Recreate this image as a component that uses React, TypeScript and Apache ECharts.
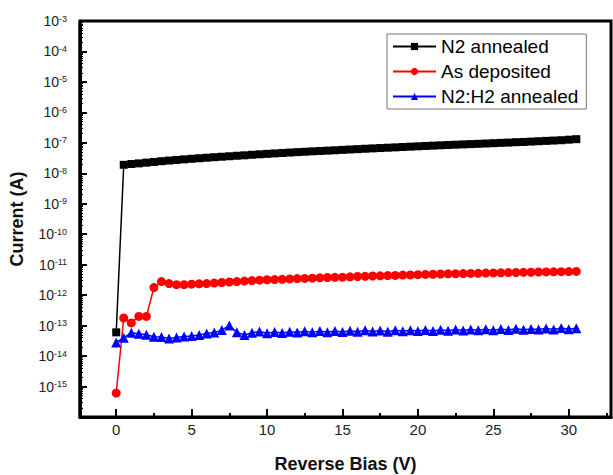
import React, { useEffect, useRef } from "react";
import * as echarts from "echarts";

const voltage = [
  0, 0.5, 1, 1.5, 2, 2.5, 3, 3.5, 4, 4.5, 5, 5.5, 6, 6.5, 7, 7.5, 8, 8.5, 9, 9.5,
  10, 10.5, 11, 11.5, 12, 12.5, 13, 13.5, 14, 14.5, 15, 15.5, 16, 16.5, 17, 17.5,
  18, 18.5, 19, 19.5, 20, 20.5, 21, 21.5, 22, 22.5, 23, 23.5, 24, 24.5, 25, 25.5,
  26, 26.5, 27, 27.5, 28, 28.5, 29, 29.5, 30, 30.5,
];

const n2Annealed = [
  6.0e-14, 1.9e-8, 2.02e-8, 2.12e-8, 2.24e-8, 2.36e-8, 2.5e-8, 2.62e-8, 2.75e-8, 2.87e-8,
  3.0e-8, 3.12e-8, 3.25e-8, 3.38e-8, 3.5e-8, 3.63e-8, 3.77e-8, 3.9e-8, 4.05e-8, 4.2e-8,
  4.35e-8, 4.5e-8, 4.65e-8, 4.8e-8, 4.95e-8, 5.1e-8, 5.25e-8, 5.4e-8, 5.55e-8, 5.7e-8,
  5.87e-8, 6.05e-8, 6.22e-8, 6.4e-8, 6.57e-8, 6.75e-8, 6.92e-8, 7.1e-8, 7.3e-8, 7.5e-8,
  7.7e-8, 7.9e-8, 8.1e-8, 8.3e-8, 8.5e-8, 8.7e-8, 8.9e-8, 9.1e-8, 9.3e-8, 9.5e-8,
  9.75e-8, 1.0e-7, 1.02e-7, 1.05e-7, 1.07e-7, 1.1e-7, 1.13e-7, 1.16e-7, 1.19e-7, 1.22e-7,
  1.27e-7, 1.32e-7,
];

const asDeposited = [
  6.1e-16, 1.78e-13, 1.23e-13, 2.0e-13, 2.0e-13, 1.78e-12, 2.8e-12, 2.4e-12, 2.2e-12, 2.2e-12,
  2.3e-12, 2.35e-12, 2.4e-12, 2.5e-12, 2.6e-12, 2.7e-12, 2.8e-12, 2.9e-12, 3.0e-12, 3.1e-12,
  3.2e-12, 3.25e-12, 3.3e-12, 3.4e-12, 3.5e-12, 3.55e-12, 3.6e-12, 3.7e-12, 3.8e-12, 3.85e-12,
  3.9e-12, 4.0e-12, 4.1e-12, 4.15e-12, 4.25e-12, 4.3e-12, 4.4e-12, 4.45e-12, 4.55e-12, 4.6e-12,
  4.7e-12, 4.8e-12, 4.85e-12, 4.95e-12, 5.0e-12, 5.05e-12, 5.1e-12, 5.15e-12, 5.2e-12, 5.3e-12,
  5.35e-12, 5.4e-12, 5.5e-12, 5.55e-12, 5.6e-12, 5.65e-12, 5.75e-12, 5.8e-12, 5.85e-12, 5.9e-12,
  5.95e-12, 6.0e-12,
];

const n2h2Annealed = [
  2.8e-14, 4.0e-14, 5.8e-14, 5.4e-14, 5.0e-14, 4.3e-14, 4.2e-14, 3.8e-14, 4.1e-14, 4.4e-14,
  4.6e-14, 4.9e-14, 5.5e-14, 5.9e-14, 7.2e-14, 1.0e-13, 6.0e-14, 4.9e-14, 5.8e-14, 6.4e-14,
  5.6e-14, 6.2e-14, 5.7e-14, 6.3e-14, 5.9e-14, 6.5e-14, 6.0e-14, 6.6e-14, 6.1e-14, 6.7e-14,
  6.2e-14, 6.8e-14, 6.3e-14, 7.0e-14, 6.4e-14, 6.9e-14, 6.3e-14, 7.1e-14, 6.5e-14, 7.0e-14,
  6.6e-14, 7.2e-14, 6.7e-14, 7.3e-14, 6.8e-14, 7.4e-14, 6.9e-14, 7.5e-14, 7.0e-14, 7.6e-14,
  7.1e-14, 7.7e-14, 7.2e-14, 7.9e-14, 7.3e-14, 7.8e-14, 7.4e-14, 8.1e-14, 7.5e-14, 8.3e-14,
  7.6e-14, 8.2e-14,
];

const seriesNames = ["N2 annealed", "As deposited", "N2:H2 annealed"];
const xAxisTitle = "Reverse Bias (V)";
const yAxisTitle = "Current (A)";

const FONT = "'Liberation Sans', Arial, sans-serif";

export default function App() {
  const ref = useRef<HTMLDivElement>(null);
  useEffect(() => {
    if (!ref.current) return;
    const chart = echarts.init(ref.current, undefined, { renderer: "svg" });
    const pair = (ys: number[]) => voltage.map((v, i) => [v, ys[i]]);
    const xMin = -2.4;
    const xMax = 32.8;
    const gridLeft = 80;
    const gridTop = 21;
    const gridBottomY = 475 - 58;
    chart.setOption({
      animation: false,
      backgroundColor: "#fff",
      textStyle: { fontFamily: FONT },
      grid: {
        left: gridLeft,
        top: gridTop,
        right: 2,
        bottom: 58,
        show: true,
        borderColor: "#000",
        borderWidth: 3,
        containLabel: false,
        outerBoundsMode: "none",
      },
      legend: {
        orient: "vertical",
        left: 387,
        top: 34,
        itemWidth: 43,
        itemHeight: 9,
        itemGap: 6,
        padding: [3, 8, 3, 5],
        borderColor: "#777",
        borderWidth: 1,
        backgroundColor: "#fff",
        textStyle: { fontSize: 19, color: "#000", fontFamily: FONT },
        data: seriesNames,
      },
      graphic: [
        {
          type: "line",
          shape: { x1: gridLeft, y1: gridTop, x2: gridLeft, y2: gridBottomY },
          style: { stroke: "#000", lineWidth: 3 },
          z: 100,
          silent: true,
        },
      ],
      xAxis: [
        {
          type: "value",
          position: "bottom",
          min: xMin,
          max: xMax,
          splitNumber: 7,
          minInterval: 5,
          maxInterval: 5,
          name: xAxisTitle,
          nameLocation: "middle",
          nameGap: 38,
          nameTextStyle: { fontSize: 18, fontWeight: "bold", color: "#111", fontFamily: FONT },
          axisLine: { show: true, onZero: false, lineStyle: { color: "#000", width: 3 } },
          axisTick: { show: true, inside: true, length: 8, lineStyle: { color: "#000", width: 2 } },
          axisLabel: {
            show: true,
            margin: 5,
            fontSize: 15,
            color: "#222",
            fontFamily: FONT,
            showMinLabel: false,
            showMaxLabel: false,
          },
          splitLine: { show: false },
        },
        {
          type: "value",
          position: "bottom",
          min: xMin,
          max: xMax,
          splitNumber: 14,
          minInterval: 2.5,
          maxInterval: 2.5,
          axisLine: { show: false, onZero: false },
          axisTick: { show: true, inside: true, length: 4, lineStyle: { color: "#000", width: 2 } },
          axisLabel: { show: false },
          splitLine: { show: false },
        },
      ],
      yAxis: {
        type: "log",
        position: "left",
        min: 1e-16,
        max: 1e-3,
        interval: 1,
        name: yAxisTitle,
        nameLocation: "middle",
        nameGap: 54,
        nameRotate: 90,
        nameTextStyle: { fontSize: 18, fontWeight: "bold", color: "#111", fontFamily: FONT },
        axisLine: { show: true, onZero: false, lineStyle: { color: "#000", width: 3 } },
        axisTick: { show: true, inside: true, length: 7, lineStyle: { color: "#000", width: 2 } },
        minorTick: { show: true, splitNumber: 9, length: 3, lineStyle: { color: "#000", width: 1 } },
        axisLabel: {
          show: true,
          margin: 13,
          color: "#222",
          formatter: (value: number) => {
            const l = Math.log10(value);
            const e = Math.round(l);
            if (Math.abs(l - e) > 0.01 || e < -15) return "";
            return "{b|10}{s|" + e + "}";
          },
          rich: {
            b: { fontSize: 14, lineHeight: 14, verticalAlign: "bottom", color: "#222", fontFamily: FONT },
            s: { fontSize: 9, lineHeight: 2, verticalAlign: "top", color: "#222", fontFamily: FONT },
          },
        },
        splitLine: { show: false },
      },
      series: [
        {
          name: seriesNames[0],
          type: "line",
          xAxisIndex: 0,
          data: pair(n2Annealed),
          symbol: "rect",
          symbolSize: 8,
          color: "#000",
          lineStyle: { color: "#000", width: 1.5 },
          itemStyle: { color: "#000" },
          z: 3,
        },
        {
          name: seriesNames[1],
          type: "line",
          xAxisIndex: 0,
          data: pair(asDeposited),
          symbol: "circle",
          symbolSize: 9,
          color: "#ff0000",
          lineStyle: { color: "#ff0000", width: 1.5 },
          itemStyle: { color: "#ff0000" },
          z: 2,
        },
        {
          name: seriesNames[2],
          type: "line",
          xAxisIndex: 0,
          data: pair(n2h2Annealed),
          symbol: "triangle",
          symbolSize: 10,
          color: "#0000ff",
          lineStyle: { color: "#0000ff", width: 1.5 },
          itemStyle: { color: "#0000ff" },
          z: 2,
        },
      ],
    });
    return () => chart.dispose();
  }, []);
  return (
    <div
      ref={ref}
      style={{ position: "fixed", left: 0, top: 0, width: 613, height: 475, background: "#fff" }}
    />
  );
}
